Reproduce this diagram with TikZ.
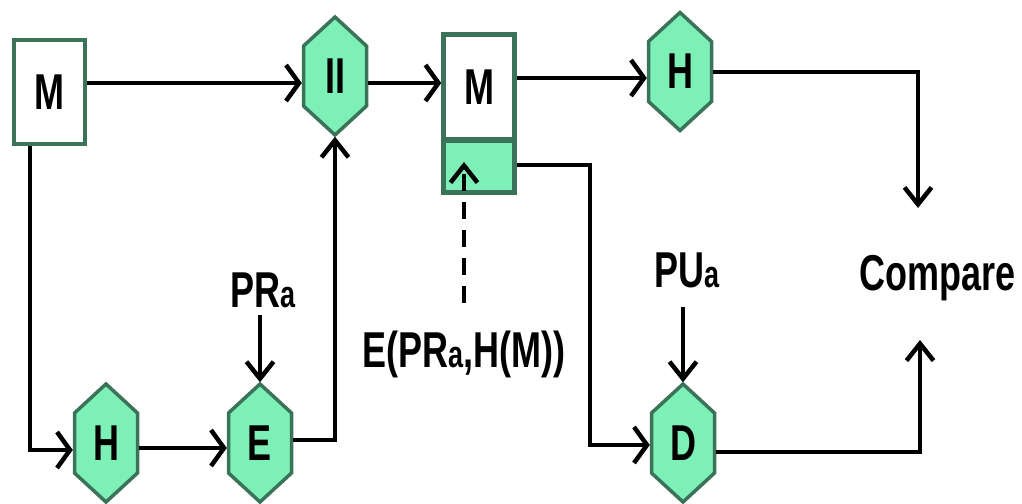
\documentclass[tikz,border=0pt]{standalone}
\usepackage{fontspec}
\setmainfont{Liberation Sans}
\usetikzlibrary{arrows.meta,calc}
\definecolor{hexfill}{RGB}{124,240,182}
\definecolor{edgegreen}{RGB}{59,115,88}
\newcommand\lbl[1]{\scalebox{1}[1.4]{\bfseries\fontsize{36}{40}\selectfont #1}}
\newcommand\suba{{\fontsize{27}{30}\selectfont a}}
\newcommand\hexshape[4]{%
  \path[hexline] (#2,#3-59) -- (#2+31.5,#3-30) -- (#2+31.5,#3+30) -- (#2,#3+59)
     -- (#2-31.5,#3+30) -- (#2-31.5,#3-30) -- cycle;
  \node[hexnode] (#1) at (#2,#3) {\lbl{#4}};
}
\begin{document}
\begin{tikzpicture}[x=1pt,y=-1pt,
  boxnode/.style={draw=edgegreen,line width=4.5pt,fill=white,minimum width=71pt,inner sep=0pt},
  hexnode/.style={minimum width=66pt,minimum height=121pt,inner sep=0pt},
  hexline/.style={draw=edgegreen,fill=hexfill,line width=3.5pt,line join=miter},
  txt/.style={inner sep=0pt,anchor=base},
  conn/.style={line width=4.5pt,line join=miter},
  harr/.style={conn,-{Straight Barb[length=13pt,width=36pt]}},
  varr/.style={conn,-{Straight Barb[length=17pt,width=27pt]}},
  dashconn/.style={varr,dash pattern=on 17pt off 11pt}
]
\clip (0,0) rectangle (1022,503);
\fill[white] (0,0) rectangle (1022,503);

% boxes
\node[boxnode,minimum height=104pt] (M1) at (49.5,92) {\lbl{M}};
\node[boxnode,minimum height=105pt] (M2) at (479,87) {\lbl{M}};
\node[boxnode,minimum height=52pt,fill=hexfill] (M2b) at (479,166.5) {};

% hexagons
\hexshape{II}{335}{76}{II}
\hexshape{Ht}{680}{71.5}{H}
\hexshape{Hb}{106}{443}{H}
\hexshape{E}{260}{443}{E}
\hexshape{D}{683}{443}{D}

% free texts
\node[txt] (PR) at (263,307) {\lbl{PR\suba}};
\node[txt] (PU) at (687,287) {\lbl{PU\suba}};
\node[txt] (EL) at (464,367) {\lbl{E(PR\suba,H(M))}};
\node[txt] (CMP) at (937.5,290) {\lbl{Compare}};

% helper coordinates
\coordinate (cT) at (918,208);
\coordinate (cB) at (920,340);
\coordinate (dS) at (464,303);
\coordinate (prS) at (260,315);
\coordinate (puS) at (683,307);

% connectors
\draw[harr] (M1.east |- 0,83) -- (II.west |- 0,83);
\draw[harr] (II.east |- 0,83) -- (M2.west |- 0,83);
\draw[harr] (M2.east |- 0,78) -- (Ht.west |- 0,78);
\draw[varr] (Ht.east |- 0,72) -| (cT);
\draw[varr] (D.east |- 0,452) -| (cB);
\draw[harr] (M2b.east |- 0,165) -- (590,165) |- (D.west |- 0,445);
\draw[dashconn] (dS) -- (dS |- 0,162);
\draw[varr] (puS) -- (D.north);
\draw[varr] (prS) -- (E.north);
\draw[harr] (M1.south -| 30,0) |- (Hb.west |- 0,450);
\draw[harr] (Hb.east |- 0,448) -- (E.west |- 0,448);
\draw[varr] (E.east |- 0,440) -| (II.south);
\end{tikzpicture}
\end{document}
